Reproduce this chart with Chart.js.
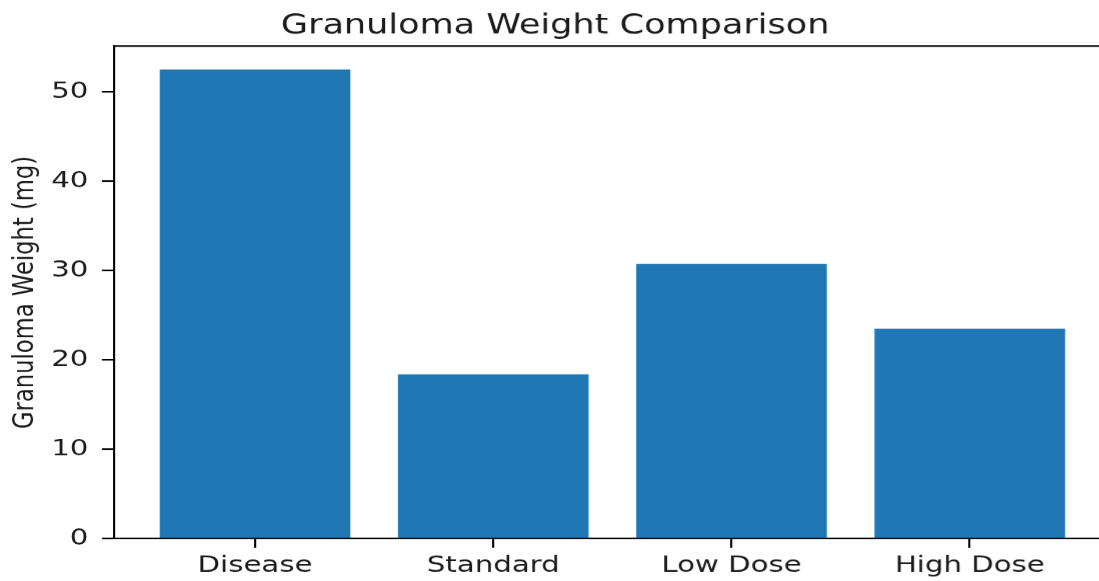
<!DOCTYPE html>
<html>
<head>
<meta charset="utf-8">
<script src="https://cdn.jsdelivr.net/npm/chart.js@4"></script>
<style>
  html, body { margin: 0; padding: 0; background: #ffffff; }
  #wrap { width: 1099px; height: 581px; overflow: hidden; position: relative; background: #ffffff; }
  #c { position: absolute; left: 0; top: 0; transform-origin: 0 0; transform: scale(2.1, 1.63); }
</style>
</head>
<body>
<div id="wrap"><canvas id="c" width="583" height="357"></canvas></div>
<script>
// ---- data ----
const categories = ["Disease", "Standard", "Low Dose", "High Dose"];
const weights = [52.5, 18.4, 30.75, 23.5];
const yTicks = [0, 10, 20, 30, 40, 50];
const titleText = "Granuloma Weight Comparison";
const yAxisLabel = "Granuloma Weight (mg)";

const FONT = "'DejaVu Sans', sans-serif";
const TEXT = "#1a1a1a";

const framePlugin = {
  id: 'frame',
  afterDatasetsDraw(chart) {
    const { ctx, chartArea: a } = chart;
    ctx.save();
    ctx.strokeStyle = '#000';
    ctx.lineWidth = 1;
    ctx.beginPath();
    ctx.moveTo(a.left, a.top);
    ctx.lineTo(a.right, a.top);
    ctx.lineTo(a.right, a.bottom);
    ctx.stroke();
    ctx.restore();
  }
};

new Chart(document.getElementById('c'), {
  type: 'bar',
  data: {
    datasets: [{
      data: categories.map((c, i) => ({ x: i, y: weights[i] })),
      backgroundColor: '#1f77b4',
      borderWidth: 0,
      categoryPercentage: 1.0,
      barPercentage: 0.8
    }]
  },
  options: {
    responsive: false,
    animation: false,
    devicePixelRatio: 2.1,
    layout: { padding: { left: 0, right: 54.4, top: 0, bottom: 0 } },
    plugins: {
      legend: { display: false },
      tooltip: { enabled: false },
      title: {
        display: true,
        text: titleText,
        color: TEXT,
        font: { family: FONT, size: 16.7, weight: 'normal' },
        padding: { top: 6, bottom: 2.2 }
      }
    },
    scales: {
      x: {
        type: 'linear',
        offset: false,
        min: -0.59,
        max: 3.59,
        afterBuildTicks(scale) { scale.ticks = categories.map((c, i) => ({ value: i })); },
        afterFit(scale) { scale.height = 26.8; },
        ticks: {
          callback: (v) => categories[v],
          color: TEXT,
          font: { family: FONT, size: 13.9 },
          padding: 3,
          maxRotation: 0,
          autoSkip: false
        },
        grid: { display: true, offset: false, drawOnChartArea: false, drawTicks: true, tickLength: 5.5, color: '#000', lineWidth: 1 },
        border: { display: true, color: '#000', width: 1 }
      },
      y: {
        min: 0,
        max: 55.125,
        afterBuildTicks(scale) { scale.ticks = yTicks.map(v => ({ value: v })); },
        afterFit(scale) { scale.width = 54.5; },
        ticks: {
          color: TEXT,
          font: { family: FONT, size: 13.9 },
          padding: 6.4
        },
        title: {
          display: true,
          text: yAxisLabel,
          color: TEXT,
          font: { family: FONT, size: 13.9 },
          padding: { top: 3.6, bottom: 0 }
        },
        grid: { display: true, drawOnChartArea: false, drawTicks: true, tickLength: 6, color: '#000', lineWidth: 1 },
        border: { display: true, color: '#000', width: 1 }
      }
    }
  },
  plugins: [framePlugin]
});
</script>
</body>
</html>
